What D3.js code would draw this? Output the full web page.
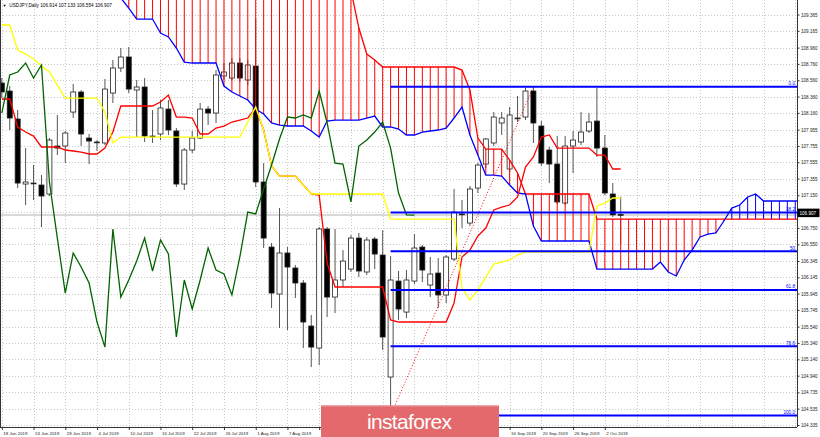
<!DOCTYPE html>
<html><head><meta charset="utf-8">
<script src="https://cdn.jsdelivr.net/npm/d3@7"></script>
<style>
body{margin:0;background:#fff}
svg{display:block}
text{font-family:"Liberation Sans",Arial,sans-serif}
</style>
</head><body>
<svg id="chart" width="820" height="437"></svg>
<script>
// ---------- DATA ----------
const headerText = "USDJPY,Daily  106.914 107.133 106.554 106.907";
const opens  = [108.526,108.428,108.085,107.288,107.294,107.276,107.166,107.754,107.754,108.170,
                108.416,107.852,107.800,107.791,108.403,108.710,108.845,108.440,108.477,107.876,
                107.901,108.207,107.938,107.288,107.705,107.852,108.207,108.158,108.612,108.587,
                108.771,108.563,108.734,107.313,106.516,105.940,106.443,106.259,106.075,105.548,
                105.278,106.737,105.903,106.112,106.246,106.626,106.210,106.614,106.418,104.923,
                106.099,105.719,106.099,106.516,106.050,106.197,105.928,106.369,106.914,106.810,
                107.239,107.533,107.791,108.036,107.472,108.091,108.109,108.428,107.999,107.705,
                107.533,107.055,107.754,107.803,107.938,108.060,107.729,107.166,106.914];
const highs  = [108.587,108.489,108.195,107.729,107.521,107.398,107.852,108.134,107.938,108.514,
                108.440,107.901,107.827,108.575,108.808,108.955,108.967,108.563,108.587,108.195,
                108.318,108.318,107.974,107.729,107.938,108.281,108.244,108.685,108.771,108.832,
                108.832,108.808,109.310,107.545,106.565,106.994,106.516,106.295,106.112,105.683,
                106.761,106.761,106.737,106.479,106.663,106.688,106.639,106.639,106.724,106.406,
                106.222,106.234,106.675,106.541,106.394,106.381,106.418,107.227,107.092,107.264,
                107.545,107.852,108.170,108.170,108.232,108.367,108.465,108.477,108.060,107.742,
                107.876,107.876,107.938,108.170,108.158,108.465,107.889,107.300,107.133];
const lows   = [108.342,107.950,107.239,107.031,107.092,106.761,107.141,107.643,107.545,108.097,
                107.754,107.533,107.693,107.766,108.281,108.661,108.403,107.864,107.803,107.791,
                107.827,107.889,107.251,107.215,107.668,107.840,108.011,108.036,108.563,108.563,
                108.538,108.501,107.251,106.504,105.769,105.523,105.499,105.891,105.278,105.045,
                105.070,105.658,105.707,106.026,106.210,106.148,106.173,106.246,105.254,104.450,
                105.622,105.646,106.063,106.087,105.903,105.769,105.830,106.345,106.749,106.773,
                107.178,107.484,107.754,107.889,107.435,108.048,108.072,107.791,107.509,107.300,
                107.043,107.031,107.423,107.766,107.913,107.619,107.153,106.884,106.554];
const closes = [108.416,108.097,107.300,107.313,107.300,107.141,107.827,107.729,107.913,108.416,
                107.901,107.815,107.803,108.452,108.710,108.845,108.452,108.477,107.876,107.870,
                108.220,107.950,107.288,107.705,107.852,108.207,108.158,108.624,108.661,108.771,
                108.587,108.747,107.313,106.626,105.952,106.443,106.271,106.075,105.597,105.290,
                106.737,105.903,106.112,106.344,106.626,106.222,106.602,106.430,105.413,106.112,
                105.756,106.112,106.504,106.234,106.185,105.928,106.394,106.945,106.921,107.227,
                107.521,107.840,108.109,108.097,108.134,108.097,108.428,108.036,107.545,107.533,
                107.068,107.754,107.827,107.925,108.048,107.729,107.178,106.910,106.907];
// Tenkan-sen (red)
const tenkan = [108.330,108.330,107.987,107.925,107.876,107.742,107.742,107.742,107.705,107.693,
                107.680,107.656,107.656,107.729,107.925,108.244,108.244,108.244,108.244,108.244,
                108.293,108.379,108.109,108.109,108.097,107.901,107.901,107.974,107.999,108.048,
                108.072,108.097,108.220,107.950,107.509,107.386,107.386,107.386,107.276,107.166,
                107.153,106.320,106.026,106.026,106.026,106.026,106.026,106.026,106.026,105.622,
                105.597,105.597,105.597,105.597,105.597,105.597,105.597,105.830,106.394,106.479,
                106.651,106.749,106.970,107.006,107.031,107.129,107.497,107.619,107.864,107.889,
                107.729,107.729,107.729,107.729,107.729,107.643,107.643,107.472,107.472];
// Kijun-sen (yellow)
const kijun  = [109.237,109.237,108.930,108.881,108.820,108.734,108.661,108.501,108.342,108.342,
                108.342,108.342,108.342,108.170,107.791,107.864,107.864,107.864,107.864,107.864,
                107.864,107.864,107.864,107.864,107.864,107.864,107.864,107.864,107.864,107.864,
                107.864,108.048,108.232,107.950,107.509,107.386,107.386,107.386,107.276,107.166,
                107.166,107.166,107.166,107.166,107.166,107.166,107.166,107.166,107.166,106.859,
                106.859,106.859,106.859,106.859,106.859,106.859,106.859,106.859,106.014,105.867,
                105.989,106.148,106.308,106.332,106.357,106.418,106.455,106.455,106.455,106.455,
                106.455,106.455,106.455,106.455,106.455,107.019,107.055,107.117,107.117];
// Chikou span (green), plotted 26 bars back
const chikou = [108.158,108.624,108.661,108.771,108.587,108.747,107.313,106.626,105.952,106.443,
                106.271,106.075,105.597,105.290,106.737,105.903,106.112,106.344,106.626,106.222,
                106.602,106.430,105.413,106.112,105.756,106.112,106.504,106.234,106.185,105.928,
                106.394,106.945,106.921,107.227,107.521,107.840,108.109,108.097,108.134,108.097,
                108.428,108.036,107.545,107.533,107.068,107.754,107.827,107.925,108.048,107.729,
                107.178,106.910,106.907];
// Senkou span drawn in red (cloud edge), bars 0..104
const senkouRed = [110.2,110.2,110.2,110.2,110.2,110.2,110.2,110.2,110.2,110.2,
                   110.2,110.2,110.2,110.2,110.2,110.2,110.2,110.2,110.2,110.2,
                   110.2,110.2,110.2,110.2,110.2,110.2,110.2,110.2,110.2,110.2,
                   110.2,110.2,110.2,110.2,110.2,110.2,110.2,110.2,110.2,110.2,
                   110.2,110.2,110.2,110.1,109.666,109.200,108.881,108.808,108.722,108.722,
                   108.722,108.722,108.722,108.722,108.722,108.722,108.722,108.722,108.685,108.440,
                   107.852,107.717,107.717,107.717,107.582,107.423,107.166,107.166,107.166,107.166,
                   107.166,107.166,107.166,107.166,107.166,106.859,106.859,106.859,106.859,106.859,
                   106.859,106.859,106.859,106.859,106.859,106.859,106.859,106.859,106.859,106.859,
                   106.859,106.859,106.859,106.859,106.859,106.859,106.859,106.859,106.859,106.859,
                   106.859,106.859,106.859,106.859,106.859];
// Senkou span drawn in blue (cloud edge), bars 0..104
const senkouBlue = [110.1,110.1,110.1,110.1,110.1,110.1,110.1,110.1,110.1,110.1,
                    110.1,110.1,110.1,110.1,109.727,109.568,109.445,109.310,109.310,109.310,
                    109.139,109.090,108.955,108.783,108.771,108.771,108.771,108.771,108.489,108.416,
                    108.367,108.318,108.207,108.146,108.036,108.011,107.999,107.999,107.999,107.938,
                    107.864,108.060,108.072,108.072,108.072,108.072,108.097,108.121,107.987,107.987,
                    107.962,107.889,107.889,107.925,107.938,107.950,107.974,108.097,108.232,107.889,
                    107.643,107.398,107.398,107.386,107.276,107.178,107.166,106.773,106.590,106.590,
                    106.590,106.590,106.590,106.590,106.590,106.246,106.246,106.246,106.246,106.246,
                    106.246,106.246,106.246,106.332,106.210,106.161,106.357,106.479,106.639,106.675,
                    106.688,106.835,106.994,107.031,107.129,107.166,107.080,107.080,107.080,107.080,
                    107.080,107.080,107.080,107.080,107.080];
// Fibonacci retracement (Aug 26 low -> Sep 19 high)
const fibAnchors = [{bar:49, price:104.45},{bar:67, price:108.48}];
const fibLevels  = [108.48,106.94,106.465,105.99,105.30,104.45];
const fibLabels  = ["0.0","38.2","50","61.8","78.6","100.0"];
// Axis ticks
const priceTickLabels = ["109.365","109.165","108.960","108.760","108.560","108.360","108.160","107.955",
  "107.755","107.555","107.355","107.150","106.950","106.750","106.550","106.345","106.145","105.945",
  "105.745","105.540","105.340","105.140","104.940","104.735","104.535","104.335"];
const dateTickBars   = [0,4,8,12,16,20,24,28,32,36,40,44,48,52,56,60,64,68,72,76];
const dateTickLabels = ["18 Jun 2019","24 Jun 2019","28 Jun 2019","4 Jul 2019","10 Jul 2019","16 Jul 2019",
  "22 Jul 2019","26 Jul 2019","1 Aug 2019","7 Aug 2019","13 Aug 2019","19 Aug 2019","23 Aug 2019",
  "29 Aug 2019","4 Sep 2019","10 Sep 2019","16 Sep 2019","20 Sep 2019","26 Sep 2019","2 Oct 2019"];
const gridBars = [0,4,8,12,16,20,24,28,32,36,40,44,48,52,56,60,64,68,72,76,80,84,88,92,96,100];
const lastPrice = 106.907;
const logoText = "instaforex";

// ---------- SCALES ----------
const W = 820, H = 437, plotR = 797, plotB = 427;
const logo = {x: 321, y: 405.5, w: 178, h: 31.5};
const x = d3.scaleLinear().domain([0, 78]).range([1.8, 620.7]);
const y = d3.scaleLinear().domain([104.335, 109.365]).range([425, 14.55]);

const svg = d3.select("#chart");
svg.append("rect").attr("width", W).attr("height", H).attr("fill", "#fff");
svg.append("defs").append("clipPath").attr("id", "plot")
  .append("rect").attr("x", 0).attr("y", 0).attr("width", plotR).attr("height", plotB);

const priceTicks = priceTickLabels.map(Number);

// grid
const grid = svg.append("g").attr("clip-path", "url(#plot)");
grid.selectAll("line.h").data(priceTicks).join("line")
  .attr("x1", 0).attr("x2", plotR).attr("y1", d => Math.round(y(d)) + 0.5).attr("y2", d => Math.round(y(d)) + 0.5)
  .attr("stroke", "#c8c8c8").attr("stroke-dasharray", "1,2").attr("stroke-width", 1);
grid.selectAll("line.v").data(gridBars).join("line")
  .attr("y1", 0).attr("y2", plotB).attr("x1", d => Math.round(x(d)) + 0.5).attr("x2", d => Math.round(x(d)) + 0.5)
  .attr("stroke", "#c8c8c8").attr("stroke-dasharray", "1,2").attr("stroke-width", 1);

// bid line
grid.append("line").attr("x1", 0).attr("x2", plotR).attr("y1", y(lastPrice)).attr("y2", y(lastPrice))
  .attr("stroke", "#d9d9d9").attr("stroke-width", 2);

const plot = svg.append("g").attr("clip-path", "url(#plot)");

// candles
const bars = d3.range(opens.length);
const cg = plot.append("g");
cg.selectAll("line.wick").data(bars).join("line")
  .attr("x1", i => x(i)).attr("x2", i => x(i))
  .attr("y1", i => y(highs[i])).attr("y2", i => y(lows[i]))
  .attr("stroke", "#555").attr("stroke-width", 1);
cg.selectAll("rect.body").data(bars).join("rect")
  .attr("x", i => x(i) - 2.5).attr("width", 5)
  .attr("y", i => y(Math.max(opens[i], closes[i])))
  .attr("height", i => Math.max(0.8, Math.abs(y(opens[i]) - y(closes[i]))))
  .attr("fill", i => closes[i] >= opens[i] ? "#fff" : "#000")
  .attr("stroke", "#222").attr("stroke-width", 0.8);

// cloud hatch
const spanIdx = d3.range(senkouRed.length);
const hg = plot.append("g");
hg.selectAll("line").data(spanIdx).join("line")
  .attr("x1", i => x(i)).attr("x2", i => x(i))
  .attr("y1", i => y(senkouRed[i])).attr("y2", i => y(senkouBlue[i]))
  .attr("stroke", i => senkouRed[i] >= senkouBlue[i] ? "#ff0000" : "#0000ff")
  .attr("stroke-width", 1);

const line = arr => d3.line().x((d, i) => x(i)).y(d => y(d))(arr);
plot.append("path").attr("d", line(senkouRed)).attr("fill", "none").attr("stroke", "#ff0000").attr("stroke-width", 1.3);
plot.append("path").attr("d", line(senkouBlue)).attr("fill", "none").attr("stroke", "#0000ff").attr("stroke-width", 1.3);

// tenkan, kijun, chikou
plot.append("path").attr("d", line(tenkan)).attr("fill", "none").attr("stroke", "#ff0000").attr("stroke-width", 1.3);
plot.append("path").attr("d", line(kijun)).attr("fill", "none").attr("stroke", "#ffff00").attr("stroke-width", 1.3);
plot.append("path").attr("d", line(chikou)).attr("fill", "none").attr("stroke", "#006400").attr("stroke-width", 1.3);

// fibonacci
const fg = plot.append("g");
fg.append("line")
  .attr("x1", x(fibAnchors[0].bar)).attr("y1", y(fibAnchors[0].price))
  .attr("x2", x(fibAnchors[1].bar)).attr("y2", y(fibAnchors[1].price))
  .attr("stroke", "#ff0000").attr("stroke-width", 1).attr("stroke-dasharray", "1,2");
fg.selectAll("line.fib").data(fibLevels).join("line")
  .attr("x1", x(fibAnchors[0].bar)).attr("x2", plotR)
  .attr("y1", d => y(d)).attr("y2", d => y(d))
  .attr("stroke", "#0000ff").attr("stroke-width", 2);
fg.selectAll("text").data(fibLevels).join("text")
  .attr("x", 795).attr("y", d => y(d) - 1.6)
  .attr("text-anchor", "end").attr("font-size", 4.6).attr("fill", "#0000ff")
  .text((d, i) => fibLabels[i]);

// axes
const yAxis = d3.axisRight(y).tickValues(priceTicks).tickSize(2.5).tickPadding(1.5)
  .tickFormat((d, i) => priceTickLabels[i]);
const ya = svg.append("g").attr("transform", `translate(${plotR},0)`).call(yAxis);
ya.select(".domain").attr("stroke", "#333").attr("d", `M0.5,0V${plotB}`);
ya.selectAll("text").attr("font-size", 4.6).attr("fill", "#222").attr("font-family", "Liberation Sans, Arial, sans-serif");
ya.selectAll("line").attr("stroke", "#333");

// date labels that sit under the logo banner are not visible in the reference
const underLogo = i => { const px = x(dateTickBars[i]); return px > logo.x - 6 && px < logo.x + logo.w; };
const xAxis = d3.axisBottom(x).tickValues(dateTickBars).tickSize(3).tickPadding(1.5)
  .tickFormat((d, i) => underLogo(i) ? "" : dateTickLabels[i]);
const xa = svg.append("g").attr("transform", `translate(0,${plotB})`).call(xAxis);
xa.select(".domain").attr("stroke", "#333").attr("d", `M0,0.5H${plotR}`);
xa.selectAll("text").attr("font-size", 4.4).attr("fill", "#222").attr("text-anchor", "start").attr("dx", 1)
  .attr("font-family", "Liberation Sans, Arial, sans-serif");
xa.selectAll("text").filter(function(){ return this.textContent === ""; }).remove();
xa.selectAll("line").attr("stroke", "#333");

// left border
svg.append("line").attr("x1", 0.5).attr("x2", 0.5).attr("y1", 0).attr("y2", plotB).attr("stroke", "#333");

// last price box
svg.append("rect").attr("x", 797.5).attr("y", y(lastPrice) - 6.5).attr("width", 22).attr("height", 8.5).attr("fill", "#000");
svg.append("text").attr("x", 799.5).attr("y", y(lastPrice) - 0.6).attr("font-size", 4.6).attr("fill", "#fff")
  .text(d3.format(".3f")(lastPrice));

// header
svg.append("text").attr("x", 2.5).attr("y", 6.8).attr("font-size", 4).attr("fill", "#000").text("▼");
svg.append("text").attr("x", 9.3).attr("y", 6.8).attr("font-size", 4.7).attr("fill", "#000").text(headerText);

// logo
const lg = svg.append("g");
lg.append("rect").attr("x", logo.x).attr("y", logo.y).attr("width", logo.w).attr("height", logo.h).attr("fill", "#e3696c");
lg.append("rect").attr("x", logo.x).attr("y", logo.y).attr("width", logo.w).attr("height", 1).attr("fill", "#ec9a9b");
lg.append("text").attr("x", logo.x + 88.5).attr("y", 428.5).attr("text-anchor", "middle")
  .attr("font-family", "Open Sans, Lato, sans-serif").attr("font-weight", 300)
  .attr("font-size", 21).attr("fill", "#fff").attr("textLength", 85).text(logoText);
</script>
</body></html>
